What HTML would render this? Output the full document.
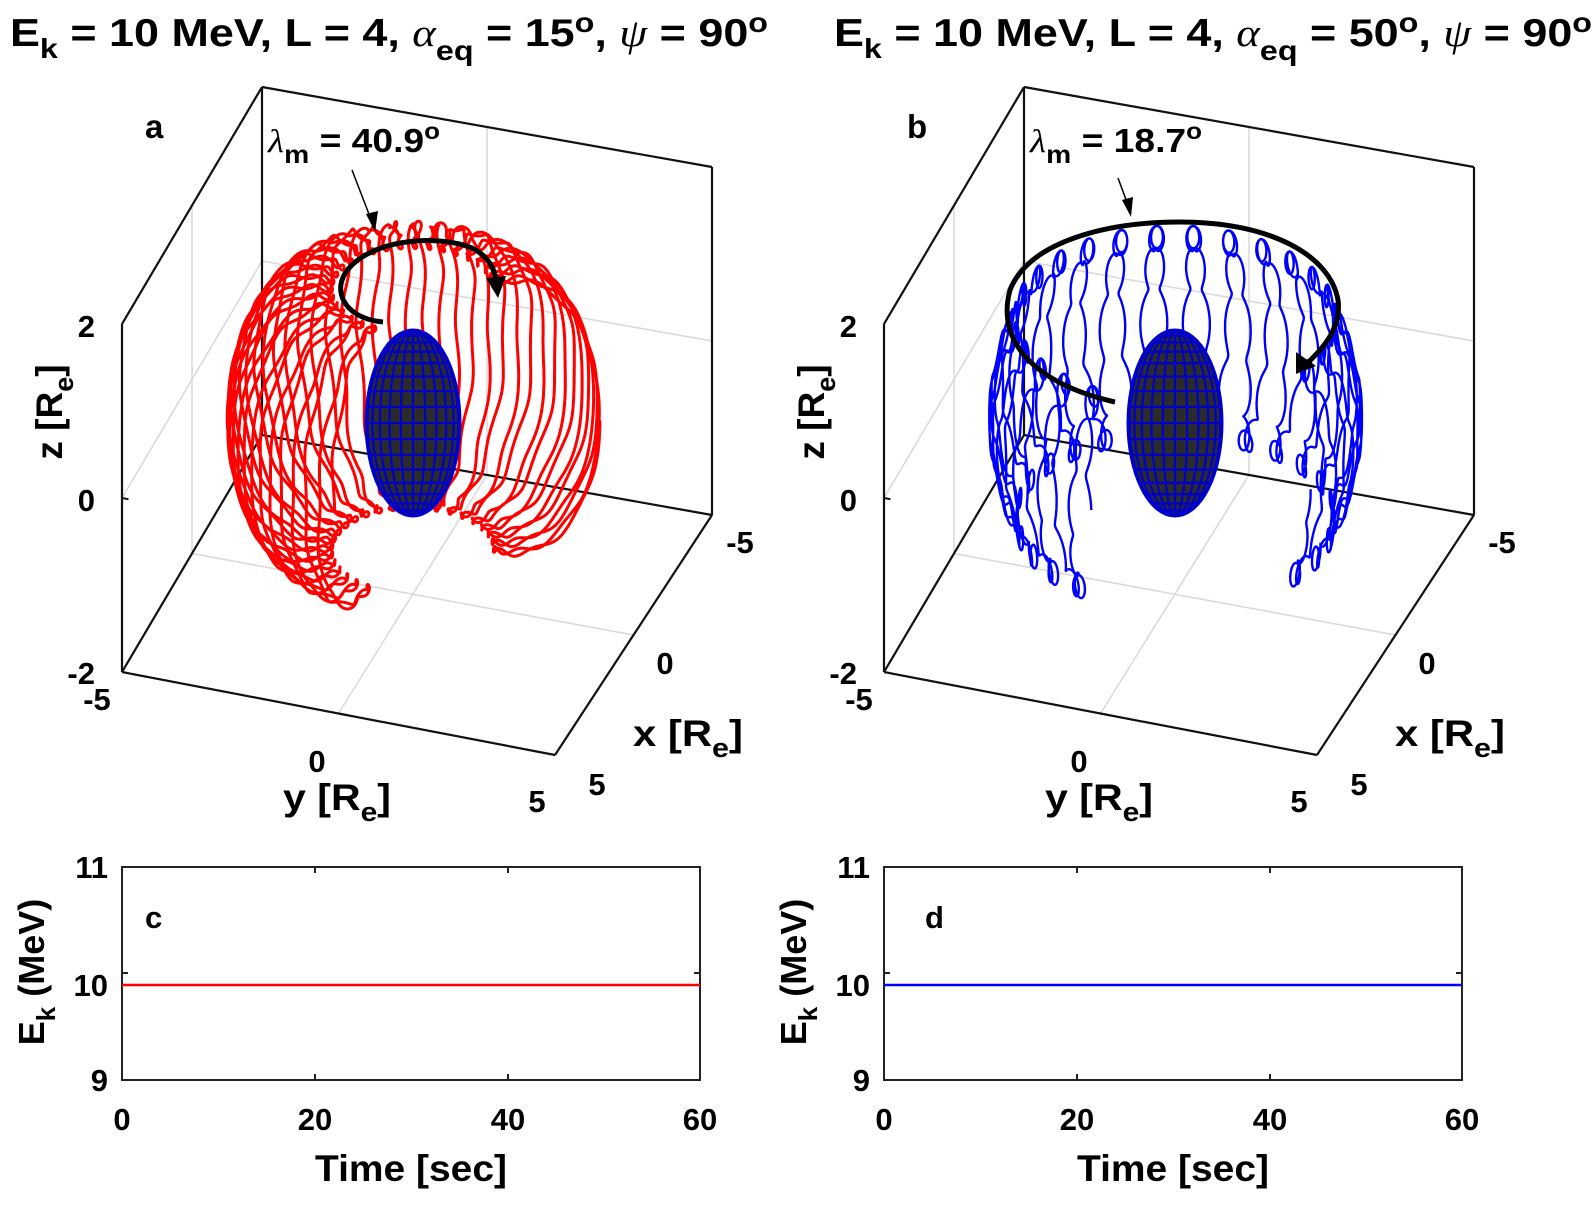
<!DOCTYPE html>
<html><head><meta charset="utf-8"><style>
body{margin:0;background:#fff;}
svg{display:block;font-family:"Liberation Sans",sans-serif;font-weight:bold;}
</style></head><body>
<svg id="s" width="1594" height="1214" viewBox="0 0 1594 1214" xmlns="http://www.w3.org/2000/svg">
<g font-size="39">
<text x="10" y="46" textLength="758" lengthAdjust="spacingAndGlyphs">E<tspan font-size="28" dy="12">k</tspan><tspan dy="-12"> = 10 MeV, L = 4, </tspan><tspan font-family="Liberation Serif" font-style="italic" font-weight="normal">α</tspan><tspan font-size="28" dy="14">eq</tspan><tspan dy="-14"> = 15</tspan><tspan font-size="28" dy="-14">o</tspan><tspan dy="14">, </tspan><tspan font-family="Liberation Serif" font-style="italic" font-weight="normal">ψ</tspan> = 90<tspan font-size="28" dy="-14">o</tspan></text>
<text x="834" y="46" textLength="758" lengthAdjust="spacingAndGlyphs">E<tspan font-size="28" dy="12">k</tspan><tspan dy="-12"> = 10 MeV, L = 4, </tspan><tspan font-family="Liberation Serif" font-style="italic" font-weight="normal">α</tspan><tspan font-size="28" dy="14">eq</tspan><tspan dy="-14"> = 50</tspan><tspan font-size="28" dy="-14">o</tspan><tspan dy="14">, </tspan><tspan font-family="Liberation Serif" font-style="italic" font-weight="normal">ψ</tspan> = 90<tspan font-size="28" dy="-14">o</tspan></text>
</g>
<g id="p0"></g><g id="p1"></g>
<g font-size="31">
<rect x="122" y="867" width="578" height="213" fill="none" stroke="#222" stroke-width="2"/>
<line x1="122" y1="985" x2="700" y2="985" stroke="#f00" stroke-width="2.5"/>
<text x="145" y="928">c</text>
<g text-anchor="end"><text x="108" y="878">11</text><text x="108" y="996">10</text><text x="108" y="1091">9</text></g>
<g text-anchor="middle"><text x="122" y="1130">0</text><text x="315" y="1130">20</text><text x="508" y="1130">40</text><text x="700" y="1130">60</text></g>
<text x="315" y="1181" font-size="37" textLength="192" lengthAdjust="spacingAndGlyphs">Time [sec]</text>
<text transform="translate(44,972) rotate(-90)" text-anchor="middle" font-size="36">E<tspan font-size="26" dy="11">k</tspan><tspan dy="-11"> (MeV)</tspan></text>
<g stroke="#222" stroke-width="2"><line x1="315" y1="1080" x2="315" y2="1074"/><line x1="508" y1="1080" x2="508" y2="1074"/><line x1="315" y1="867" x2="315" y2="873"/><line x1="508" y1="867" x2="508" y2="873"/><line x1="122" y1="973" x2="128" y2="973"/><line x1="700" y1="973" x2="694" y2="973"/></g>

<rect x="884" y="867" width="578" height="213" fill="none" stroke="#222" stroke-width="2"/>
<line x1="884" y1="985" x2="1462" y2="985" stroke="#00f" stroke-width="2.5"/>
<text x="925" y="928">d</text>
<g text-anchor="end"><text x="870" y="878">11</text><text x="870" y="996">10</text><text x="870" y="1091">9</text></g>
<g text-anchor="middle"><text x="884" y="1130">0</text><text x="1077" y="1130">20</text><text x="1270" y="1130">40</text><text x="1462" y="1130">60</text></g>
<text x="1077" y="1181" font-size="37" textLength="192" lengthAdjust="spacingAndGlyphs">Time [sec]</text>
<text transform="translate(806,972) rotate(-90)" text-anchor="middle" font-size="36">E<tspan font-size="26" dy="11">k</tspan><tspan dy="-11"> (MeV)</tspan></text>
<g stroke="#222" stroke-width="2"><line x1="1077" y1="1080" x2="1077" y2="1074"/><line x1="1270" y1="1080" x2="1270" y2="1074"/><line x1="1077" y1="867" x2="1077" y2="873"/><line x1="1270" y1="867" x2="1270" y2="873"/><line x1="884" y1="973" x2="890" y2="973"/><line x1="1462" y1="973" x2="1456" y2="973"/></g>
</g>
</svg>
<script>
const NS="http://www.w3.org/2000/svg";
function el(p,t,a,txt){const e=document.createElementNS(NS,t);for(const k in a)e.setAttribute(k,a[k]);if(txt)e.textContent=txt;p.appendChild(e);return e;}
function panel(idx){
 const dx=idx*762, g=document.getElementById('p'+idx);
 // floor corners at z=-2: A(x=5,y=-5) B(5,5) C(-5,5) D(-5,-5)
 const A=[122+dx,672],B=[555+dx,755],C=[712+dx,515],D=[262+dx,435];
 const P=(x,y,z)=>{const u=(y+5)/10, v=(5-x)/10;
  const px=(1-u)*(1-v)*A[0]+u*(1-v)*B[0]+u*v*C[0]+(1-u)*v*D[0];
  const py=(1-u)*(1-v)*A[1]+u*(1-v)*B[1]+u*v*C[1]+(1-u)*v*D[1];
  return [px,py-87*(z+2)];};
 const L=(a,b,st,w)=>el(g,'line',{x1:a[0],y1:a[1],x2:b[0],y2:b[1],stroke:st,'stroke-width':w});
 const gr='#d8d8d8';
 L(P(0,-5,-2),P(0,5,-2),gr,1.5); L(P(5,0,-2),P(-5,0,-2),gr,1.5);
 L(P(-5,0,-2),P(-5,0,2),gr,1.5); L(P(-5,-5,0),P(-5,5,0),gr,1.5);
 L(P(0,-5,-2),P(0,-5,2),gr,1.5); L(P(5,-5,0),P(-5,-5,0),gr,1.5);
 const k='#111';
 L(P(5,-5,-2),P(5,5,-2),k,2.2); L(P(5,5,-2),P(-5,5,-2),k,2.2);
 L(P(5,-5,-2),P(-5,-5,-2),k,2.2); L(P(-5,-5,-2),P(-5,5,-2),k,2.2);
 L(P(5,-5,-2),P(5,-5,2),k,2.2); L(P(-5,-5,-2),P(-5,-5,2),k,2.2); L(P(-5,5,-2),P(-5,5,2),k,2.2);
 L(P(5,-5,2),P(-5,-5,2),k,2.2); L(P(-5,-5,2),P(-5,5,2),k,2.2);
 L(P(0,5,-2),P(0.25,5,-2),k,2); L(P(5,0,-2),P(5,0.2,-2),k,2);L(P(5,-5,0),P(5,-4.85,0),k,2);
 const T=(x,y,s,a)=>el(g,'text',{x:x+dx,y:y,'font-size':31,'text-anchor':a||'middle'},s);
 T(95,337,'2','end');T(95,511,'0','end');T(95,684,'-2','end');
 T(97,710,'-5');T(317,772,'0');T(537,812,'5');
 T(597,795,'5');T(665,674,'0');T(740,553,'-5');
 el(g,'text',{x:283+dx,y:810,'font-size':37,textLength:108,lengthAdjust:'spacingAndGlyphs'},'').innerHTML='y [R<tspan font-size="27" dy="11">e</tspan><tspan dy="-11">]</tspan>';
 el(g,'text',{x:633+dx,y:746,'font-size':37,textLength:110,lengthAdjust:'spacingAndGlyphs'},'').innerHTML='x [R<tspan font-size="27" dy="11">e</tspan><tspan dy="-11">]</tspan>';
 el(g,'text',{transform:`translate(${62+dx},412) rotate(-90)`,'font-size':37,'text-anchor':'middle'},'').innerHTML='z [R<tspan font-size="27" dy="11">e</tspan><tspan dy="-11">]</tspan>';
 el(g,'text',{x:145+dx,y:138,'font-size':33},idx?'b':'a');
 el(g,'text',{x:268+dx,y:152,'font-size':33,textLength:172,lengthAdjust:'spacingAndGlyphs'},'').innerHTML='<tspan font-family="Liberation Serif" font-style="italic" font-weight="normal">λ</tspan><tspan font-size="25" dy="11">m</tspan><tspan dy="-11"> = '+(idx?'18.7':'40.9')+'</tspan><tspan font-size="23" dy="-13">o</tspan>';
 const lm=(idx?18.7:40.9)*Math.PI/180, col=idx?'#0000ff':'#ff0000';
 const phi0=(idx?351:353)*Math.PI/180, phi1=(idx?65:108)*Math.PI/180;
 const N=idx?22:24, steps=N*500;
 const span=phi0-phi1; let d='';
 for(let i=0;i<=steps;i++){
  const t=i/steps*N*2*Math.PI;
  const lam=lm*Math.sin(t);
  let ph=phi0-span*i/steps;
  const r=4*Math.cos(lam)**2;
  let x=r*Math.cos(lam)*Math.cos(ph), y=r*Math.cos(lam)*Math.sin(ph), z=r*Math.sin(lam);
  const w=idx?11:14;
  const a=idx?(0.06+0.09*Math.pow(Math.abs(Math.sin(t)),8)):0.05;
  const gx=a*Math.cos(w*t), gz=a*Math.sin(w*t);
  x+=-Math.sin(ph)*gx; y+=Math.cos(ph)*gx; z+=gz*(idx?1:0.6);
  const p=P(x,y,z);
  d+=(i?'L':'M')+p[0].toFixed(1)+' '+p[1].toFixed(1);
 }
 el(g,'path',{d:d,fill:'none',stroke:col,'stroke-width':idx?2.4:3,'stroke-linejoin':'round'});
 const ex=413+dx, ey=423, rx=47, ry=93;
 el(g,'ellipse',{cx:ex,cy:ey,rx:rx,ry:ry,fill:'#2b2b2b',stroke:'#0000c8','stroke-width':3});
 let ed='';
 for(let j=1;j<18;j++){const th=-Math.PI/2+j*Math.PI/18;const yy=ey+ry*Math.sin(th);const hw=rx*Math.cos(th);ed+=`M${ex-hw} ${yy}L${ex+hw} ${yy}`;}
 for(let j=1;j<12;j++){const ph=j*Math.PI/12;const xr=rx*Math.cos(ph);ed+=`M${ex} ${ey-ry}A${Math.abs(xr).toFixed(2)} ${ry} 0 0 ${xr>0?1:0} ${ex} ${ey+ry}`;}
 el(g,'path',{d:ed,fill:'none',stroke:'#0000c8','stroke-width':2.2});
 if(!idx){
  el(g,'path',{d:'M383 322 C340 318 330 285 352 265 C380 238 440 235 472 248 C492 258 497 275 497 290',fill:'none',stroke:'#000','stroke-width':5});
  el(g,'path',{d:'M486 278 L498 298 L506 276 Z',fill:'#000'});
  el(g,'line',{x1:352,y1:170,x2:372,y2:222,stroke:'#000','stroke-width':1.5});
  el(g,'path',{d:'M366 214 L375 232 L378 211 Z',fill:'#000'});
 } else {
  el(g,'path',{d:'M1115 402 C1040 385 995 345 1010 290 C1030 240 1110 222 1180 222 C1270 222 1330 255 1338 300 C1342 330 1320 352 1300 370',fill:'none',stroke:'#000','stroke-width':5});
  el(g,'path',{d:'M1296 352 L1296 374 L1316 366 Z',fill:'#000'});
  el(g,'line',{x1:1118,y1:178,x2:1128,y2:205,stroke:'#000','stroke-width':1.5});
  el(g,'path',{d:'M1122 200 L1131 217 L1133 197 Z',fill:'#000'});
 }
}
panel(0);panel(1);
</script>
</body></html>
